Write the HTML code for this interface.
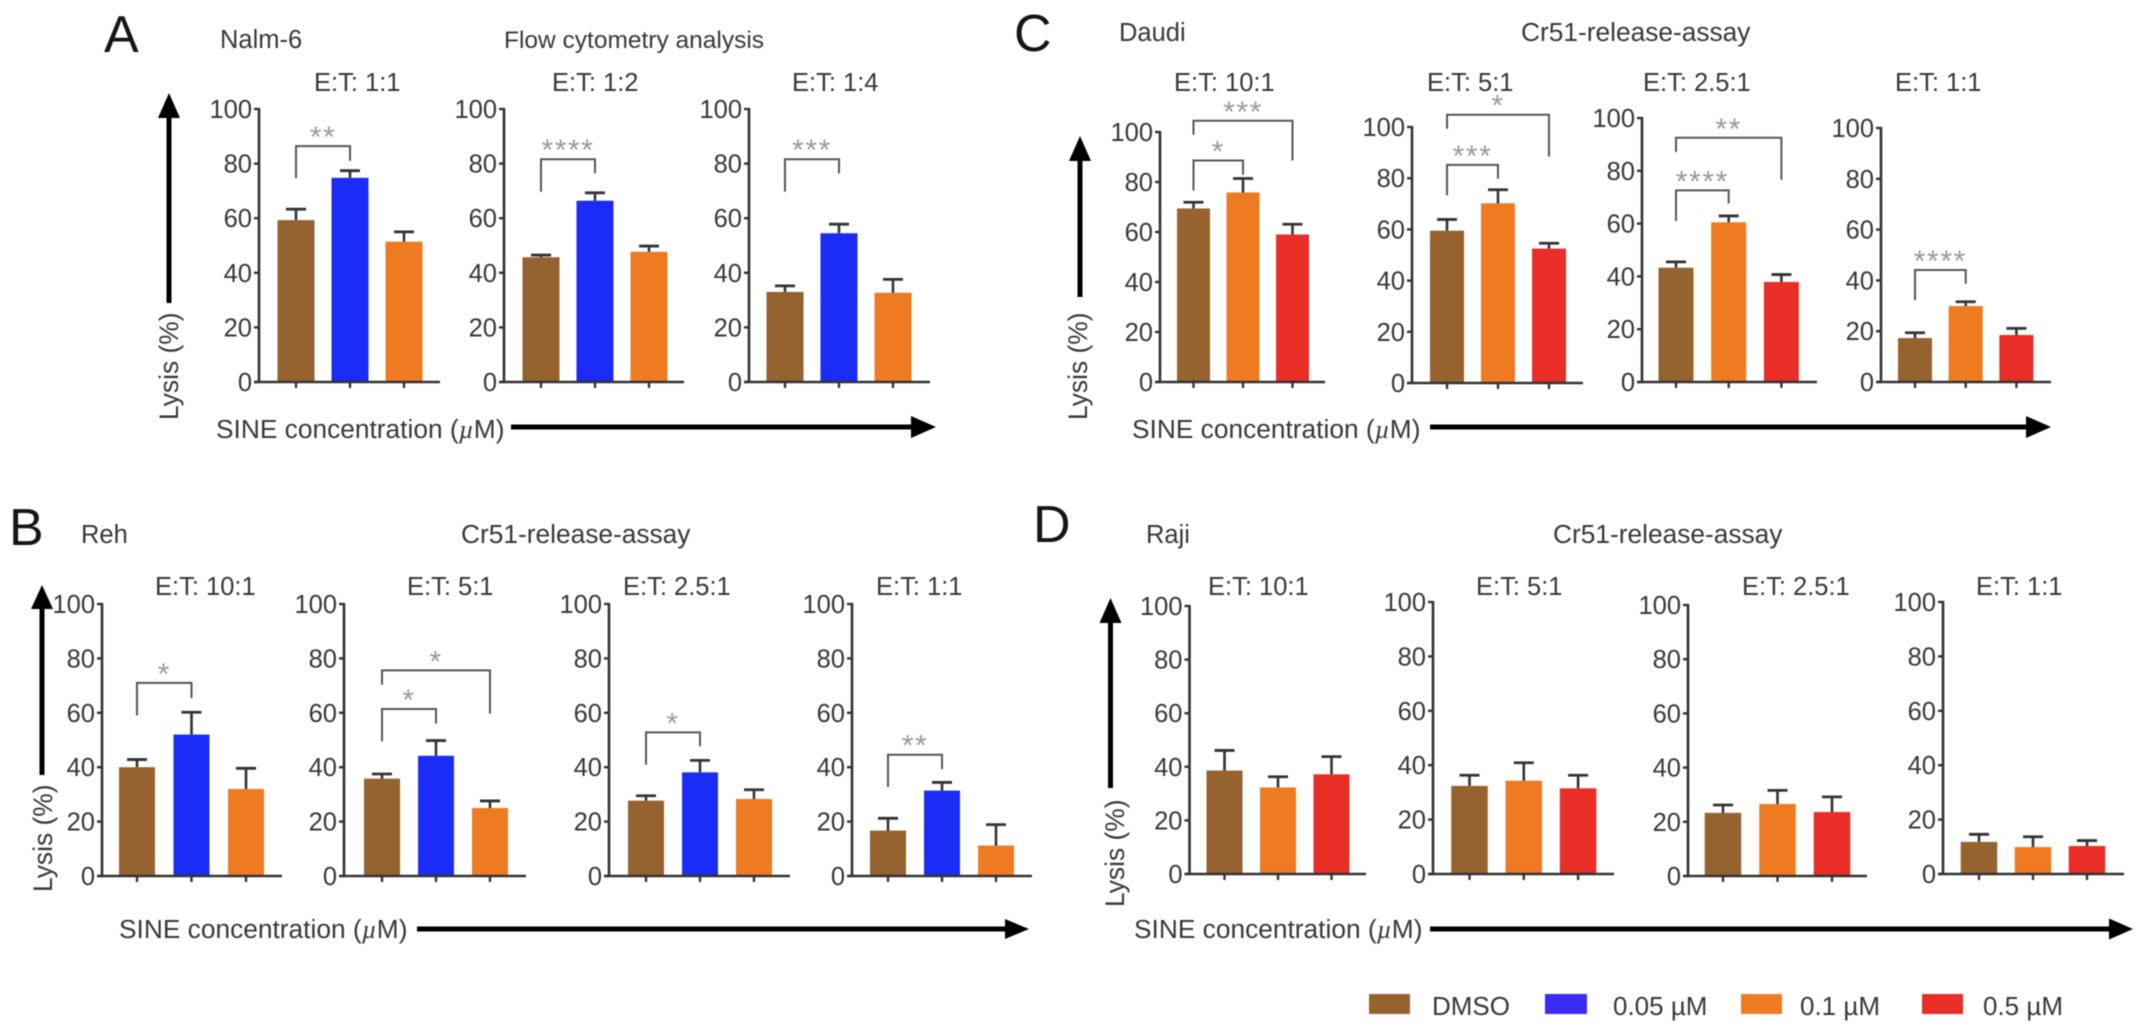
<!DOCTYPE html>
<html lang="en">
<head>
<meta charset="utf-8">
<title>Lysis by SINE concentration</title>
<style>
html,body{margin:0;padding:0;background:#fff;}
svg{display:block;filter:blur(0.55px);}
text{font-family:"Liberation Sans",sans-serif;fill:#383838;}
.letter{font-size:52px;fill:#151515;}
.head{font-size:25.5px;}
.assay{font-size:26.3px;}
.flow{font-size:24.5px;}
.sine{font-size:26.3px;}
.lysis{font-size:26.4px;}
.legend-text{font-size:26px;}
.tick{font-size:25.5px;}
.star{font-size:30px;fill:#9a9a9a;letter-spacing:1.6px;}
.mu{font-family:"Liberation Serif",serif;font-style:italic;}
</style>
</head>
<body>
<svg id="figure" width="2150" height="1036" viewBox="0 0 2150 1036" xmlns="http://www.w3.org/2000/svg">
<rect width="2150" height="1036" fill="#fff"/>

<text class="letter" x="104" y="52">A</text>
<text class="head" x="220" y="48">Nalm-6</text>
<text class="flow" x="504" y="48">Flow cytometry analysis</text>
<text class="lysis" transform="translate(178,420) rotate(-90)">Lysis (%)</text>
<text class="sine" x="216" y="438">SINE concentration (<tspan class="mu">µ</tspan>M)</text>

<text class="letter" x="9" y="545">B</text>
<text class="head" x="81" y="543">Reh</text>
<text class="assay" x="461" y="543">Cr51-release-assay</text>
<text class="lysis" transform="translate(52,892) rotate(-90)">Lysis (%)</text>
<text class="sine" x="119" y="938">SINE concentration (<tspan class="mu">µ</tspan>M)</text>

<text class="letter" x="1014" y="51">C</text>
<text class="head" x="1119" y="41">Daudi</text>
<text class="assay" x="1521" y="41">Cr51-release-assay</text>
<text class="lysis" transform="translate(1087,420) rotate(-90)">Lysis (%)</text>
<text class="sine" x="1132" y="438">SINE concentration (<tspan class="mu">µ</tspan>M)</text>

<text class="letter" x="1033" y="542">D</text>
<text class="head" x="1146" y="543">Raji</text>
<text class="assay" x="1553" y="543">Cr51-release-assay</text>
<text class="lysis" transform="translate(1124,907) rotate(-90)">Lysis (%)</text>
<text class="sine" x="1134" y="938">SINE concentration (<tspan class="mu">µ</tspan>M)</text>

<!-- direction arrows -->
<g><rect x="166.5" y="115" width="5" height="188" fill="#000"/><polygon points="169,93 158,118 180,118" fill="#000"/></g>
<g><rect x="511" y="424.5" width="402" height="5" fill="#000"/><polygon points="936,427 911,416 911,438" fill="#000"/></g>
<g><rect x="39.5" y="607" width="5" height="168" fill="#000"/><polygon points="42,585 31,609 53,609" fill="#000"/></g>
<g><rect x="417" y="926.5" width="590" height="5" fill="#000"/><polygon points="1029,929 1005,919 1005,939" fill="#000"/></g>
<g><rect x="1077.5" y="159" width="5" height="138" fill="#000"/><polygon points="1080,136 1069,161 1091,161" fill="#000"/></g>
<g><rect x="1430" y="424.5" width="598" height="5" fill="#000"/><polygon points="2051,427 2026,416 2026,438" fill="#000"/></g>
<g><rect x="1108" y="621" width="5" height="167" fill="#000"/><polygon points="1110.5,598 1099.5,623 1121.5,623" fill="#000"/></g>
<g><rect x="1430" y="926.5" width="681" height="5" fill="#000"/><polygon points="2133,929 2109,918.5 2109,939.5" fill="#000"/></g>

<!-- legend -->
<g>
<g><rect x="1369" y="994" width="41" height="20" fill="#96622f"/><text class="legend-text" x="1432" y="1015">DMSO</text></g>
<g><rect x="1545" y="994" width="42" height="20" fill="#3a2cf0"/><text class="legend-text" x="1613" y="1015">0.05 µM</text></g>
<g><rect x="1741" y="994" width="41" height="20" fill="#ee7b22"/><text class="legend-text" x="1800" y="1015">0.1 µM</text></g>
<g><rect x="1922" y="994" width="41" height="20" fill="#e92d27"/><text class="legend-text" x="1983" y="1015">0.5 µM</text></g>
</g>

<g id="charts"></g>
</svg>

<script>
// shared axis and series labels
const tickValues = [0, 20, 40, 60, 80, 100];
const seriesAB = ['DMSO', '0.05 µM', '0.1 µM'];
const seriesCD = ['DMSO', '0.1 µM', '0.5 µM'];
const seriesColors = { 'DMSO': '#96622f', '0.05 µM': '#1a2cf5', '0.1 µM': '#ee7b22', '0.5 µM': '#e92d27' };

// Panel A: Nalm-6
const a1Means = [59.3, 74.8, 51.4];
const a1Upper = [63.3, 77.4, 55.0];
const a2Means = [45.7, 66.4, 47.7];
const a2Upper = [46.5, 69.3, 49.8];
const a3Means = [33.0, 54.5, 32.7];
const a3Upper = [35.2, 57.8, 37.6];
// Panel B: Reh
const b1Means = [40.0, 52.0, 32.0];
const b1Upper = [42.8, 60.2, 39.6];
const b2Means = [35.8, 44.2, 25.0];
const b2Upper = [37.5, 49.8, 27.6];
const b3Means = [27.7, 38.1, 28.3];
const b3Upper = [29.5, 42.5, 31.7];
const b4Means = [16.7, 31.4, 11.2];
const b4Upper = [21.2, 34.4, 18.9];
// Panel C: Daudi
const c1Means = [69.4, 75.8, 59.0];
const c1Upper = [71.9, 81.4, 63.1];
const c2Means = [59.5, 70.2, 52.5];
const c2Upper = [63.9, 75.5, 54.6];
const c3Means = [43.3, 60.5, 37.9];
const c3Upper = [45.5, 62.9, 40.7];
const c4Means = [17.3, 29.9, 18.5];
const c4Upper = [19.4, 31.6, 21.1];
// Panel D: Raji
const d1Means = [38.6, 32.3, 37.2];
const d1Upper = [46.1, 36.3, 43.8];
const d2Means = [32.4, 34.3, 31.5];
const d2Upper = [36.3, 40.9, 36.3];
const d3Means = [23.3, 26.6, 23.6];
const d3Upper = [26.2, 31.6, 29.2];
const d4Means = [11.8, 9.9, 10.3];
const d4Upper = [14.6, 13.7, 12.3];

// Significance brackets, heights in axis units (%)
const a1Sig = [{ from: 0, to: 1, top: 86.4, left: 74.7, right: 81.0, label: '**' }];
const a2Sig = [{ from: 0, to: 1, top: 81.6, left: 69.7, right: 76.4, label: '****' }];
const a3Sig = [{ from: 0, to: 1, top: 81.6, left: 69.7, right: 76.4, label: '***' }];
const b1Sig = [{ from: 0, to: 1, top: 71.0, left: 59.0, right: 65.4, label: '*' }];
const b2Sig = [{ from: 0, to: 2, top: 75.6, left: 70.3, right: 59.7, label: '*' }, { from: 0, to: 1, top: 61.4, left: 49.5, right: 56.0, label: '*' }];
const b3Sig = [{ from: 0, to: 1, top: 52.8, left: 40.9, right: 47.7, label: '*' }];
const b4Sig = [{ from: 0, to: 1, top: 44.6, left: 32.7, right: 39.3, label: '**' }];
const c1Sig = [{ from: 0, to: 2, top: 104.5, left: 98.9, right: 88.6, label: '***' }, { from: 0, to: 1, top: 88.6, left: 76.6, right: 82.9, label: '*' }];
const c2Sig = [{ from: 0, to: 2, top: 104.8, left: 99.3, right: 88.5, label: '*' }, { from: 0, to: 1, top: 85.2, left: 73.3, right: 79.8, label: '***' }];
const c3Sig = [{ from: 0, to: 2, top: 92.5, left: 87.1, right: 76.6, label: '**' }, { from: 0, to: 1, top: 72.6, left: 61.0, right: 67.6, label: '****' }];
const c4Sig = [{ from: 0, to: 1, top: 44.1, left: 32.2, right: 38.7, label: '****' }];
const noSig = [];

const NS = 'http://www.w3.org/2000/svg';
const chartsRoot = document.getElementById('charts');

function svgEl(tag, parent, attrs) {
  const el = document.createElementNS(NS, tag);
  for (const k in attrs) el.setAttribute(k, attrs[k]);
  parent.appendChild(el);
  return el;
}

function drawChart(id, title, titleX, titleY, series, means, upper, sig, layout) {
  const yScale = v => layout.y0 - (v / 100) * (layout.y0 - layout.y100);
  const xScale = i => layout.first + i * layout.step;
  const axisColor = '#333';

  const g = svgEl('g', chartsRoot, {});
  
  

  const heading = svgEl('text', g, { x: titleX, y: titleY, 'class': 'head' });
  
  
  heading.textContent = title;

  means.forEach((m, i) => {
    const bar = svgEl('rect', g, {
      x: xScale(i) - layout.width / 2,
      y: yScale(m),
      width: layout.width,
      height: yScale(0) - yScale(m),
      fill: seriesColors[series[i]]
    });
    
    

    const stem = svgEl('line', g, { x1: xScale(i), x2: xScale(i), y1: yScale(m), y2: yScale(upper[i]), stroke: axisColor, 'stroke-width': 2.6 });
    
    

    const cap = svgEl('line', g, { x1: xScale(i) - 10, x2: xScale(i) + 10, y1: yScale(upper[i]), y2: yScale(upper[i]), stroke: axisColor, 'stroke-width': 2.8 });
    
    

    const xt = svgEl('line', g, { x1: xScale(i), x2: xScale(i), y1: yScale(0), y2: yScale(0) + 6, stroke: axisColor, 'stroke-width': 2.4 });
    
    
  });

  const yAxis = svgEl('line', g, { x1: layout.axisX, x2: layout.axisX, y1: yScale(100) - 1, y2: yScale(0) + 1, stroke: axisColor, 'stroke-width': 2.6 });
  
  

  const xAxis = svgEl('line', g, { x1: layout.axisX - 5, x2: layout.xEnd, y1: yScale(0), y2: yScale(0), stroke: axisColor, 'stroke-width': 2.6 });
  
  

  tickValues.forEach(v => {
    const t = svgEl('line', g, { x1: layout.axisX - 5, x2: layout.axisX, y1: yScale(v), y2: yScale(v), stroke: axisColor, 'stroke-width': 2.4 });
    
    

    const lab = svgEl('text', g, { x: layout.axisX - 7, y: yScale(v) + 9, 'text-anchor': 'end', 'class': 'tick' });
    
    
    lab.textContent = v;
  });

  sig.forEach(s => {
    const xa = xScale(s.from);
    const xb = xScale(s.to);
    const br = svgEl('path', g, {
      d: 'M' + xa + ' ' + yScale(s.left) + 'V' + yScale(s.top) + 'H' + xb + 'V' + yScale(s.right),
      fill: 'none', stroke: '#555', 'stroke-width': 2
    });
    
    

    const st = svgEl('text', g, { x: (xa + xb) / 2, y: yScale(s.top) + 1, 'text-anchor': 'middle', 'class': 'star' });
    
    
    st.textContent = s.label;
  });
}

drawChart('a-1-1', 'E:T: 1:1', 314, 91, seriesAB, a1Means, a1Upper, a1Sig, { axisX: 259, y100: 109, y0: 382, first: 296, step: 54, width: 37, xEnd: 440 });
drawChart('a-1-2', 'E:T: 1:2', 552, 91, seriesAB, a2Means, a2Upper, a2Sig, { axisX: 504, y100: 109, y0: 382, first: 541, step: 54, width: 37, xEnd: 684 });
drawChart('a-1-4', 'E:T: 1:4', 792, 91, seriesAB, a3Means, a3Upper, a3Sig, { axisX: 749, y100: 109, y0: 382, first: 785, step: 54, width: 37, xEnd: 930 });

drawChart('b-10-1', 'E:T: 10:1', 155, 595, seriesAB, b1Means, b1Upper, b1Sig, { axisX: 102, y100: 604, y0: 876, first: 137, step: 54.5, width: 36, xEnd: 282 });
drawChart('b-5-1', 'E:T: 5:1', 407, 595, seriesAB, b2Means, b2Upper, b2Sig, { axisX: 344, y100: 604, y0: 876, first: 382, step: 54, width: 36, xEnd: 526 });
drawChart('b-2-5-1', 'E:T: 2.5:1', 623, 595, seriesAB, b3Means, b3Upper, b3Sig, { axisX: 609, y100: 604, y0: 876, first: 646, step: 54, width: 36, xEnd: 790 });
drawChart('b-1-1', 'E:T: 1:1', 876, 595, seriesAB, b4Means, b4Upper, b4Sig, { axisX: 852, y100: 604, y0: 876, first: 888, step: 54, width: 36, xEnd: 1032 });

drawChart('c-10-1', 'E:T: 10:1', 1174, 91, seriesCD, c1Means, c1Upper, c1Sig, { axisX: 1160, y100: 132, y0: 382, first: 1193.5, step: 49.5, width: 33, xEnd: 1325 });
drawChart('c-5-1', 'E:T: 5:1', 1427, 91, seriesCD, c2Means, c2Upper, c2Sig, { axisX: 1412, y100: 127, y0: 383, first: 1447, step: 51, width: 34, xEnd: 1583 });
drawChart('c-2-5-1', 'E:T: 2.5:1', 1643, 91, seriesCD, c3Means, c3Upper, c3Sig, { axisX: 1642, y100: 118, y0: 382, first: 1676, step: 52.7, width: 35, xEnd: 1817 });
drawChart('c-1-1', 'E:T: 1:1', 1895, 91, seriesCD, c4Means, c4Upper, c4Sig, { axisX: 1881, y100: 128, y0: 382, first: 1915, step: 50.7, width: 34, xEnd: 2051 });

drawChart('d-10-1', 'E:T: 10:1', 1208, 595, seriesCD, d1Means, d1Upper, noSig, { axisX: 1189.5, y100: 606, y0: 874, first: 1224.5, step: 53.5, width: 36, xEnd: 1366 });
drawChart('d-5-1', 'E:T: 5:1', 1476, 595, seriesCD, d2Means, d2Upper, noSig, { axisX: 1433, y100: 602, y0: 874, first: 1469.5, step: 54.3, width: 36.5, xEnd: 1614 });
drawChart('d-2-5-1', 'E:T: 2.5:1', 1742, 595, seriesCD, d3Means, d3Upper, noSig, { axisX: 1688, y100: 605, y0: 876, first: 1723, step: 54.5, width: 36.5, xEnd: 1867 });
drawChart('d-1-1', 'E:T: 1:1', 1976, 595, seriesCD, d4Means, d4Upper, noSig, { axisX: 1943, y100: 602, y0: 874, first: 1979, step: 54, width: 36.5, xEnd: 2124 });
</script>
</body>
</html>
